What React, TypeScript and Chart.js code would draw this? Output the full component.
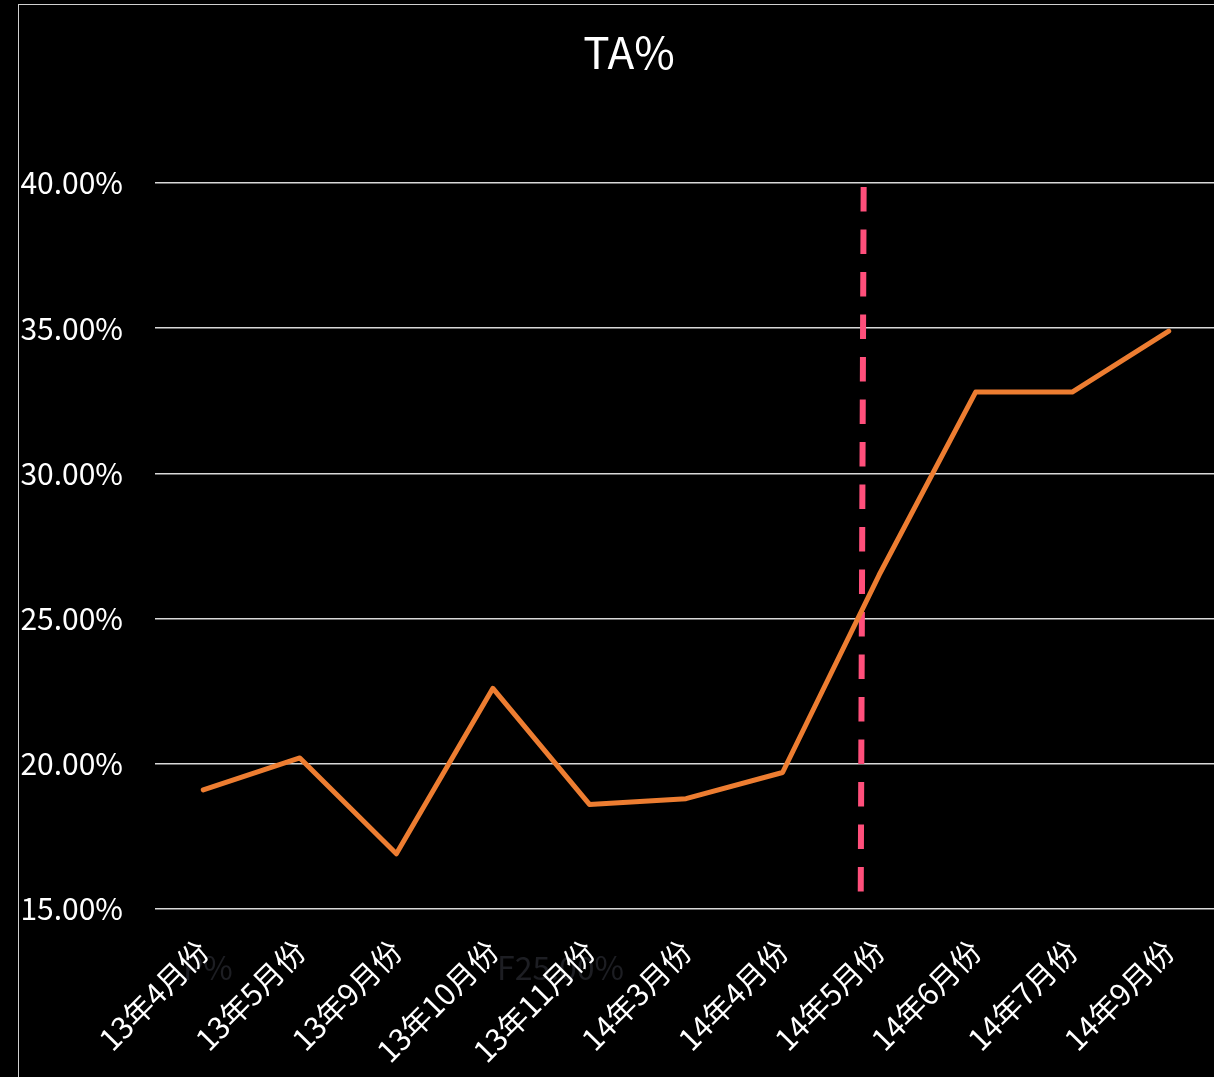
import React, { useEffect, useRef } from "react";
import { Chart, registerables } from "chart.js";

Chart.register(...registerables);

const categories = [
  "13年4月份", "13年5月份", "13年9月份", "13年10月份", "13年11月份",
  "14年3月份", "14年4月份", "14年5月份", "14年6月份", "14年7月份", "14年9月份",
];
const taValues = [19.1, 20.2, 16.9, 22.6, 18.6, 18.8, 19.7, 26.5, 32.8, 32.8, 34.9];
const yTicks = [15, 20, 25, 30, 35, 40];
// dashed marker: fractional category index and value at its two ends
const markerIndex = [6.84, 6.81];
const markerValue = [39.86, 15.59];
const titleText = "TA%";
const ghostTexts = ["P%", "F25.00%"];

const FONT = '"Noto Sans CJK SC", "Noto Sans", sans-serif';

export default function App() {
  const ref = useRef<HTMLCanvasElement | null>(null);
  useEffect(() => {
    document.documentElement.style.background = "#000";
    document.body.style.background = "#000";
    document.body.style.margin = "0";
    document.body.style.overflow = "hidden";
    const canvas = ref.current!;
    const markerPlugin = {
      id: "marker",
      beforeDraw(chart: any) {
        const ctx = chart.ctx;
        ctx.save();
        ctx.fillStyle = "#1d1e23";
        ctx.font = `32px ${FONT}`;
        ctx.textBaseline = "middle";
        ctx.textAlign = "left";
        ctx.fillText(ghostTexts[0], 164, 963);
        ctx.fillText(ghostTexts[1], 478, 963);
        ctx.fillStyle = "#ffffff";
        ctx.font = `44px ${FONT}`;
        ctx.textAlign = "center";
        ctx.fillText(titleText, chart.width / 2, 47);
        ctx.restore();
      },
      beforeDatasetsDraw(chart: any) {
        const { ctx, scales } = chart;
        const x0 = scales.x.getPixelForValue(markerIndex[0]);
        const x1 = scales.x.getPixelForValue(markerIndex[1]);
        const y0 = scales.y.getPixelForValue(markerValue[0]);
        const y1 = scales.y.getPixelForValue(markerValue[1]);
        ctx.save();
        ctx.strokeStyle = "#ff4f7b";
        ctx.lineWidth = 6;
        ctx.lineCap = "butt";
        ctx.setLineDash([24.5, 18]);
        ctx.beginPath();
        ctx.moveTo(x0, y0);
        ctx.lineTo(x1, y1);
        ctx.stroke();
        ctx.restore();
      },
    };
    const chart = new Chart(canvas, {
      type: "line",
      data: {
        labels: categories,
        datasets: [
          {
            label: titleText,
            data: taValues,
            borderColor: "#ed7d31",
            backgroundColor: "#ed7d31",
            borderWidth: 5,
            pointRadius: 0,
            tension: 0,
            borderJoinStyle: "round",
            borderCapStyle: "round",
          },
        ],
      },
      options: {
        responsive: false,
        animation: false,
        layout: { padding: { left: 0, right: 22, top: 178, bottom: 0 } },
        plugins: {
          legend: { display: false },
          tooltip: { enabled: false },
          title: { display: false },
        },
        scales: {
          x: {
            type: "category",
            offset: true,
            grid: { display: false, drawTicks: false },
            border: { display: false },
            ticks: {
              color: "#ffffff",
              font: { family: FONT, size: 30 },
              maxRotation: 45,
              minRotation: 45,
              padding: 24,
              autoSkip: false,
            },
            afterFit: (axis: any) => {
              axis.height = 196;
            },
          },
          y: {
            min: 15,
            max: 40,
            afterBuildTicks: (axis: any) => {
              axis.ticks = yTicks.map((v) => ({ value: v }));
            },
            grid: { color: "#d9d9d9", lineWidth: 1.5, drawTicks: false },
            border: { display: false },
            ticks: {
              color: "#ffffff",
              font: { family: FONT, size: 30 },
              padding: 32,
              callback: (v: any) => Number(v).toFixed(2) + "%",
            },
            afterFit: (axis: any) => {
              axis.width = 136;
            },
          },
        },
      },
      plugins: [markerPlugin],
    });
    return () => chart.destroy();
  }, []);
  return (
    <div
      style={{
        position: "fixed",
        left: 18,
        top: 4,
        width: 1220,
        height: 1100,
        border: "1px solid #d0d0d0",
        background: "#000",
      }}
    >
      <canvas ref={ref} width={1220} height={1100} style={{ display: "block" }} />
    </div>
  );
}
